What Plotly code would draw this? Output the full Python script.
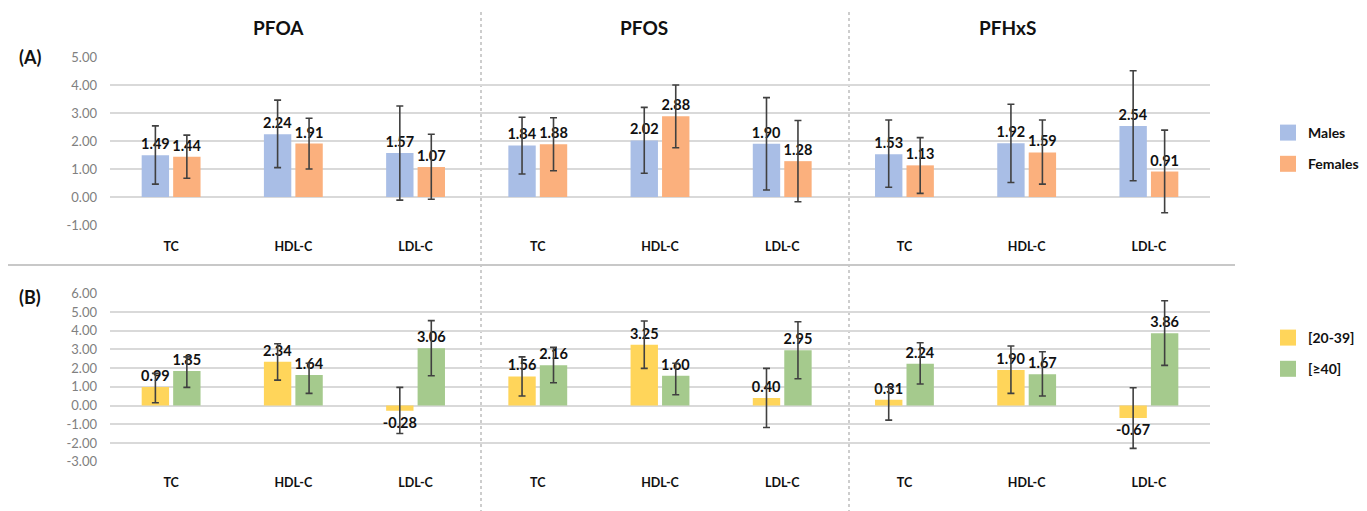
import plotly.graph_objects as go

compounds = ["PFOA", "PFOS", "PFHxS"]
lipids = ["TC", "HDL-C", "LDL-C"]

# Panel A: sex
males = [1.49, 2.24, 1.57, 1.84, 2.02, 1.90, 1.53, 1.92, 2.54]
males_hi = [2.54, 3.46, 3.25, 2.85, 3.20, 3.55, 2.75, 3.31, 4.51]
males_lo = [0.46, 1.05, -0.11, 0.82, 0.85, 0.25, 0.35, 0.52, 0.58]
females = [1.44, 1.91, 1.07, 1.88, 2.88, 1.28, 1.13, 1.59, 0.91]
females_hi = [2.21, 2.81, 2.24, 2.83, 4.00, 2.73, 2.12, 2.75, 2.39]
females_lo = [0.67, 1.00, -0.08, 0.94, 1.76, -0.17, 0.13, 0.46, -0.56]

# Panel B: age
young = [0.99, 2.34, -0.28, 1.56, 3.25, 0.40, 0.31, 1.90, -0.67]
young_hi = [1.72, 3.30, 0.97, 2.60, 4.52, 1.99, 1.00, 3.18, 0.95]
young_lo = [0.15, 1.36, -1.49, 0.51, 1.99, -1.17, -0.78, 0.65, -2.29]
old = [1.85, 1.64, 3.06, 2.16, 1.60, 2.95, 2.24, 1.67, 3.86]
old_hi = [2.60, 2.26, 4.54, 3.11, 2.26, 4.48, 3.36, 2.88, 5.60]
old_lo = [0.97, 0.65, 1.59, 1.22, 0.58, 1.43, 1.15, 0.51, 2.15]

# y tick values
yticks_a = [-1, 0, 1, 2, 3, 4, 5]
yticks_b = [-3, -2, -1, 0, 1, 2, 3, 4, 5, 6]

series_a = [("Males", males, males_hi, males_lo, "#A9BEE6"),
            ("Females", females, females_hi, females_lo, "#FBB07D")]
series_b = [("[20-39]", young, young_hi, young_lo, "#FFD55A"),
            ("[≥40]", old, old_hi, old_lo, "#A5CA8D")]

labels = [l for c in compounds for l in lipids]
xs = list(range(len(labels)))

W, H = 1367, 511
OFF = 8  # page body margin
FONT = "Lato"

def px_x(p):
    return (p - OFF) / W

def px_y(p):
    return 1 - (p - OFF) / H

fig = go.Figure()

def add_panel(series, xa, ya, legend_name):
    for name, vals, hi, lo, color in series:
        fig.add_trace(go.Bar(
            x=xs, y=vals, name=name, xaxis=xa, yaxis=ya,
            marker=dict(color=color, line=dict(width=0)),
            error_y=dict(type="data", symmetric=False,
                         array=[h - v for h, v in zip(hi, vals)],
                         arrayminus=[v - l for v, l in zip(vals, lo)],
                         color="#404040", thickness=1.6, width=3.5),
            texttemplate="%{y:.2f}", textposition="outside",
            constraintext="none", cliponaxis=False,
            textfont=dict(family=FONT, size=14.5, color="#111111", weight="bold"),
            showlegend=False, offsetgroup=name,
        ))
        fig.add_trace(go.Scatter(
            x=[None], y=[None], mode="markers", name=name,
            xaxis=xa, yaxis=ya, legend=legend_name, legendgroup=name,
            marker=dict(symbol="square", size=17, color=color),
        ))

add_panel(series_a, "x", "y", "legend")
add_panel(series_b, "x2", "y2", "legend2")

xdom = [px_x(110), px_x(1210)]
common_x = dict(domain=xdom, range=[-0.5, len(labels) - 0.5],
                tickvals=xs, ticktext=labels, showgrid=False, zeroline=False,
                showline=False, ticks="", automargin=False,
                tickfont=dict(family=FONT, size=12.5, color="#111111", weight="bold"))
common_y = dict(showgrid=True, gridcolor="#D9D9D9",
                gridwidth=1.8, zeroline=True, zerolinecolor="#D9D9D9",
                zerolinewidth=1.8, showline=False, ticks="", automargin=False,
                tickfont=dict(family=FONT, size=13, color="#808080"),
                ticklabelstandoff=12)

legend_common = dict(font=dict(family=FONT, size=14, color="#111111", weight="bold"),
                     xanchor="left", yanchor="top", bgcolor="rgba(0,0,0,0)",
                     traceorder="grouped", tracegroupgap=10, itemclick=False)

fig.update_layout(
    width=W, height=H, margin=dict(l=0, r=0, t=0, b=0, autoexpand=False),
    paper_bgcolor="white", plot_bgcolor="white",
    barmode="group", bargap=0.485, bargroupgap=0.13,
    xaxis=dict(anchor="y", ticklabelstandoff=12, **common_x),
    xaxis2=dict(anchor="y2", ticklabelstandoff=12, **common_x),
    yaxis=dict(anchor="x", domain=[px_y(225), px_y(57)],
               range=[min(yticks_a), max(yticks_a)],
               tickvals=yticks_a, ticktext=[f"{v:.2f}" for v in yticks_a], **common_y),
    yaxis2=dict(anchor="x2", domain=[px_y(461.7), px_y(293.3)],
                range=[min(yticks_b), max(yticks_b)],
                tickvals=yticks_b, ticktext=[f"{v:.2f}" for v in yticks_b], **common_y),
    legend=dict(x=px_x(1268), y=px_y(117), **legend_common),
    legend2=dict(x=px_x(1268), y=px_y(322), **legend_common),
    font=dict(family=FONT),
)

# section titles
title_px = [278, 644, 1007]
for c, xp in zip(compounds, title_px):
    fig.add_annotation(text=c, x=px_x(xp), y=px_y(27), xref="paper", yref="paper",
                       showarrow=False, xanchor="center", yanchor="middle",
                       font=dict(family=FONT, size=19, color="#111111", weight="bold"))

for t, yp in [("(A)", 57), ("(B)", 297)]:
    fig.add_annotation(text=t, x=px_x(30), y=px_y(yp), xref="paper", yref="paper",
                       showarrow=False, xanchor="center", yanchor="middle",
                       font=dict(family=FONT, size=18, color="#111111", weight="bold"))

# separators
for xp in [481, 849]:
    fig.add_shape(type="line", xref="paper", yref="paper",
                  x0=px_x(xp), x1=px_x(xp), y0=0, y1=px_y(10),
                  line=dict(color="#BDBDBD", width=1.5, dash="dot"), layer="below")
fig.add_shape(type="line", xref="paper", yref="paper",
              x0=px_x(5), x1=px_x(1235), y0=px_y(265), y1=px_y(265),
              line=dict(color="#C8C8C8", width=2), layer="below")

fig.write_html("out.html")
